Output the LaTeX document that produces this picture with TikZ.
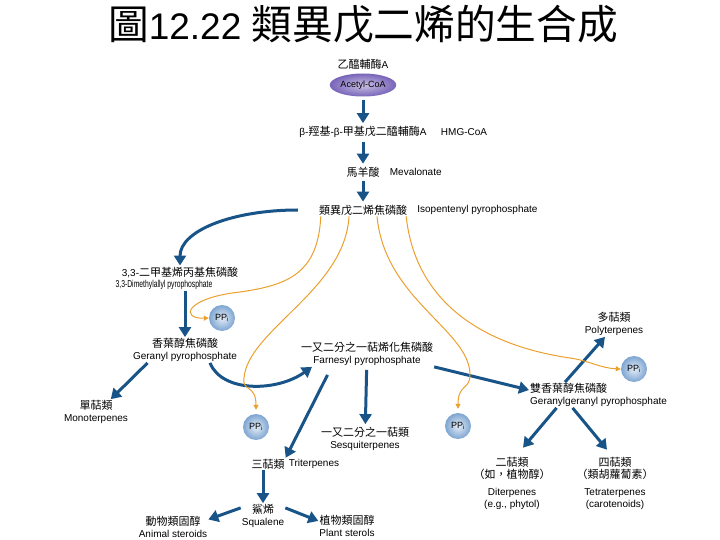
\documentclass[tikz,border=0pt]{standalone}
\usepackage{fontspec}
\usepackage{graphicx}
\setmainfont{Liberation Sans}
\newfontfamily\cjk[Scale=1.1]{Noto Sans CJK TC}
\usetikzlibrary{positioning,shapes.geometric,arrows.meta}
\definecolor{flowblue}{RGB}{24,84,136}
\definecolor{sideorange}{RGB}{235,160,45}
\definecolor{coapurple}{RGB}{120,100,185}
\definecolor{ppiblue}{RGB}{125,165,210}

\begin{document}
\begin{tikzpicture}
  [x=1pt,y=-1pt,
   every node/.style={inner sep=1pt,font=\fontsize{10}{12}\selectfont,align=center},
   flow/.style={color=flowblue,line width=3pt,-{Triangle[length=10pt,width=12pt]}},
   side/.style={color=sideorange,line width=1pt,-{Triangle[length=5pt,width=5pt]}},
   ppi/.style={circle,minimum size=26pt,inner sep=0pt,inner color=ppiblue!20,outer color=ppiblue,font=\fontsize{9}{10}\selectfont}]
  \useasboundingbox (0,0) rectangle (720,540);

  \node (title) [font=\fontsize{37}{40}\selectfont] at (363,24) {{\cjk 圖}12.22 {\cjk 類異戊二烯的生合成}};

  \node (acoalbl) at (363,64) {{\cjk 乙醯輔酶}A};
  \node (acoa) [ellipse,minimum width=64pt,minimum height=23pt,inner color=coapurple!40,outer color=coapurple,font=\fontsize{9}{10}\selectfont] at (363,85) {Acetyl-CoA};
  \node (hmg) at (363,132) {β-{\cjk 羥基}-β-{\cjk 甲基戊二醯輔酶}A};
  \node (hmgen) [right=12pt of hmg] {HMG-CoA};
  \node (mva) at (363,172) {\cjk 馬羊酸};
  \node (mvaen) [right=8pt of mva] {Mevalonate};
  \node (ipp) at (363,210) {\cjk 類異戊二烯焦磷酸};
  \node (ippen) [right=8pt of ipp] {Isopentenyl pyrophosphate};

  \node (dmapp) at (180,272) {3,3-{\cjk 二甲基烯丙基焦磷酸}};
  \node (dmappen) at (164,285) {\scalebox{0.68}[1]{3,3-Dimethylallyl pyrophosphate}};
  \node (gpp) at (185,350) {{\cjk 香葉醇焦磷酸}\\Geranyl pyrophosphate};
  \node (mono) at (96,412) {{\cjk 單萜類}\\Monoterpenes};
  \node (fpp) at (367,354) {{\cjk 一又二分之一萜烯化焦磷酸}\\Farnesyl pyrophosphate};
  \node (sesq) at (365,439) {{\cjk 一又二分之一萜類}\\Sesquiterpenes};
  \node (tri) at (268,464) {\cjk 三萜類};
  \node (trien) [right=2pt of tri] {Triterpenes};
  \node (sq) at (263,516) {{\cjk 鯊烯}\\Squalene};
  \node (animal) at (173,527) {{\cjk 動物類固醇}\\Animal steroids};
  \node (plant) at (347,526) {{\cjk 植物類固醇}\\Plant sterols};
  \node (ggpp) [anchor=west,align=left] at (529,395) {{\cjk 雙香葉醇焦磷酸}\\Geranylgeranyl pyrophosphate};
  \node (poly) at (614,324) {{\cjk 多萜類}\\Polyterpenes};
  \node (di) at (512,483) {{\cjk 二萜類}\\{\cjk （如，植物醇）}\\[5pt]Diterpenes\\(e.g., phytol)};
  \node (tetra) at (615,483) {{\cjk 四萜類}\\{\cjk （類胡蘿蔔素）}\\[5pt]Tetraterpenes\\(carotenoids)};

  \node (ppi1) [ppi] at (222,318) {PP\textsubscript{i}};
  \node (ppi2) [ppi] at (256,427) {PP\textsubscript{i}};
  \node (ppi3) [ppi] at (458,426) {PP\textsubscript{i}};
  \node (ppi4) [ppi] at (634,369) {PP\textsubscript{i}};

  % main chain
  \foreach \from/\to in {acoa/hmg,hmg/mva,mva/ipp,fpp/sesq}
    \draw [flow,shorten <=3pt,shorten >=2pt] (\from) -- (\to);
  \draw [flow] ([xshift=-20pt]ipp.west) .. controls +(-65,0) and +(0,-35) .. (dmapp.north);
  \draw [flow] (gpp.north |- dmappen.south) -- (gpp.north);
  \draw [flow] (gpp.199) -- (mono.41);
  \draw [flow] ([xshift=25pt]gpp.south) .. controls +(12,30) and +(-35,25) .. ([xshift=-55pt]fpp.south);
  \draw [flow,shorten <=9pt] (fpp.200) -- (tri.north east);
  \draw [flow] (tri.south -| sq.north) -- (sq.north);
  \draw [flow] (sq.160) -- (animal.12);
  \draw [flow] (sq.20) -- (plant.170);
  \draw [flow] (fpp.south east) -- ([yshift=5pt]ggpp.west);
  \draw [flow] ([xshift=36pt]ggpp.north west) -- (poly.235);
  \draw [flow] ([xshift=-42pt]ggpp.south) -- ([shift={(11,-8)}]di.north);
  \draw [flow] ([xshift=-26pt]ggpp.south) -- ([shift={(-8,-6)}]tetra.north);

  % isopentenyl pyrophosphate additions
  \draw [side] ([xshift=3pt]ipp.south west) .. controls (318,272) and (290,285) .. (240,292) .. controls (185,298) and (180,319) .. (ppi1.west);
  \draw [side,shorten >=4pt] ([xshift=-14pt]ipp.south) .. controls (345,290) and (248,330) .. (244,378) .. controls (242,392) and (256,384) .. (ppi2.north);
  \draw [side,shorten >=4pt] ([xshift=14pt]ipp.south) .. controls (385,300) and (470,330) .. (470,375) .. controls (470,390) and (458,384) .. (ppi3.north);
  \draw [side] ([xshift=-2pt]ipp.south east) .. controls (415,300) and (480,345) .. (570,358) .. controls (590,361) and (600,368) .. (ppi4.west);
\end{tikzpicture}
\end{document}
